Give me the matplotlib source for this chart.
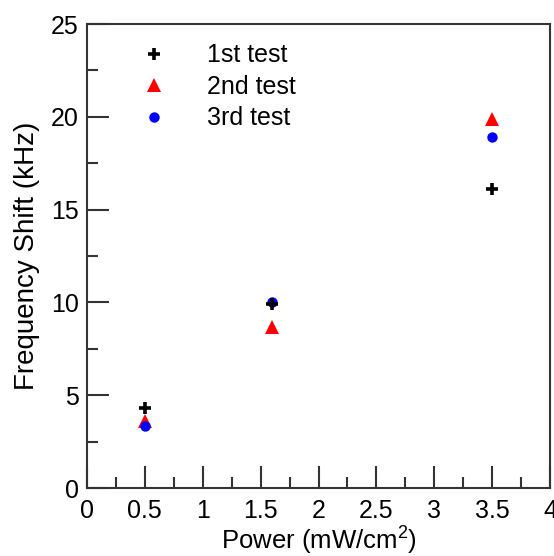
import matplotlib
matplotlib.use("Agg")
import matplotlib.pyplot as plt
from matplotlib.ticker import MultipleLocator

plt.rcParams['font.family'] = ['Liberation Sans', 'DejaVu Sans']
plt.rcParams['mathtext.fontset'] = 'custom'
plt.rcParams['mathtext.rm'] = 'Liberation Sans'

power = [0.5, 1.6, 3.5]
test1 = [4.3, 9.9, 16.1]
test2 = [3.6, 8.7, 19.9]
test3 = [3.35, 10.0, 18.9]
labels = ["1st test", "2nd test", "3rd test"]

fig = plt.figure(figsize=(5.54, 5.56), dpi=100)
ax = fig.add_axes([87/554, 1-488/556, (550-87)/554, (488-24)/556])

ax.plot(power, test1, linestyle='none', marker='+', color='black', markersize=9, markeredgewidth=2.6, label=labels[0], zorder=3)
ax.plot(power, test2, linestyle='none', marker='^', color='#ff0000', markersize=9.5, markeredgewidth=0, label=labels[1], zorder=2)
ax.plot(power, test3, linestyle='none', marker='o', color='#0000ff', markersize=7.5, markeredgewidth=0, label=labels[2], zorder=2)

ax.set_xlim(0, 4)
ax.set_ylim(0, 25)
ax.xaxis.set_minor_locator(MultipleLocator(0.25))
ax.yaxis.set_major_locator(MultipleLocator(5))
ax.yaxis.set_minor_locator(MultipleLocator(2.5))
ax.set_xticks([0, 0.5, 1, 1.5, 2, 2.5, 3, 3.5, 4])
ax.set_xticklabels(['0', '0.5', '1', '1.5', '2', '2.5', '3', '3.5', '4'])

ax.tick_params(which='major', direction='in', length=16, width=1.5, color='#333333', labelsize=18)
ax.tick_params(axis='x', which='major', pad=8)
ax.tick_params(axis='y', which='major', pad=6)
ax.tick_params(which='minor', direction='in', length=8, width=1.5, color='#333333')
for s in ax.spines.values():
    s.set_linewidth(1.5)
    s.set_color('#333333')

ax.set_xlabel('Power (mW/cm$^{\\mathregular{2}}$)', fontsize=18.5, labelpad=0)
ax.set_ylabel('Frequency Shift (kHz)', fontsize=20, labelpad=8)

leg = ax.legend(loc='upper left', bbox_to_anchor=(0.075, 0.996), frameon=False, fontsize=18,
                handletextpad=1.5, labelspacing=0.3, markerscale=1.0, handlelength=1.2,
                borderaxespad=0.3)

fig.savefig('out.png', dpi=100)
